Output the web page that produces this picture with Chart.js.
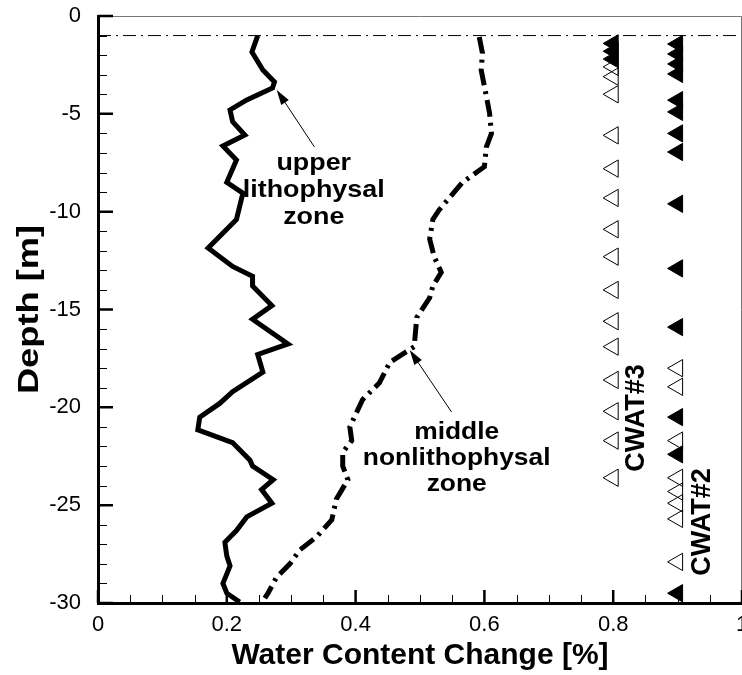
<!DOCTYPE html>
<html>
<head>
<meta charset="utf-8">
<title>Water Content Change</title>
<script src="https://cdn.jsdelivr.net/npm/chart.js@4.4.1/dist/chart.umd.min.js"></script>
<style>
  html, body { margin: 0; padding: 0; background: #fff; }
  #wrap { width: 742px; height: 675px; }
</style>
</head>
<body>
<div id="wrap"><canvas id="waterChart"></canvas></div>
<script>
// upper lithophysal zone (solid line), depth in m, change in %
const upperDepth = [-1.0, -1.84, -2.76, -3.37, -3.68, -4.29, -4.8, -5.4, -6.08, -6.64, -7.36, -8.5, -9.05,
  -10.4, -11.86, -12.8, -13.3, -13.8, -14.8, -15.5, -16.76, -17.3, -18.2, -19.2, -19.8, -20.5, -21.15,
  -21.8, -22.7, -23.0, -23.7, -24.2, -24.9, -25.6, -26.3, -26.9, -27.6, -28.1, -29.0, -29.5, -29.95];
const upperValue = [0.248, 0.239, 0.256, 0.274, 0.271, 0.231, 0.205, 0.209, 0.228, 0.194, 0.215, 0.2, 0.225,
  0.215, 0.171, 0.209, 0.24, 0.24, 0.27, 0.24, 0.295, 0.248, 0.256, 0.209, 0.189, 0.158, 0.155,
  0.209, 0.236, 0.24, 0.272, 0.254, 0.27, 0.231, 0.215, 0.197, 0.2, 0.205, 0.194, 0.2, 0.22];

// middle nonlithophysal zone (dash-dot line)
const middleDepth = [-1.07, -1.9, -2.76, -4.1, -4.96, -6.0, -6.7, -7.7, -8.5, -9.9, -10.4, -11.4, -12.3,
  -13.1, -13.8, -14.4, -15.4, -16.9, -17.7, -18.75, -19.6, -21.0, -21.7, -22.3, -23.0, -23.7, -24.7,
  -25.75, -26.6, -27.3, -28.0, -28.7, -29.5, -29.75];
const middleValue = [0.592, 0.597, 0.595, 0.603, 0.608, 0.611, 0.603, 0.6, 0.566, 0.53, 0.52, 0.515, 0.522,
  0.533, 0.52, 0.515, 0.495, 0.491, 0.453, 0.437, 0.411, 0.391, 0.394, 0.38, 0.38, 0.388, 0.37,
  0.363, 0.34, 0.313, 0.298, 0.277, 0.264, 0.259];

// probe columns (sensor depths)
const cwat3X = 0.8;
const cwat3Filled = [-1.4, -1.8, -2.2];
const cwat3Open = [-2.6, -3.1, -4.0, -6.1, -7.8, -9.3, -10.9, -12.3, -14.0, -15.6, -16.9, -18.6, -20.2, -21.7, -23.6];
const cwat2X = 0.9;
const cwat2Filled = [-1.43, -1.94, -2.45, -2.96, -4.3, -4.9, -6.0, -6.95, -9.6, -12.9, -15.9, -20.5, -22.4, -29.5];
const cwat2Open = [-18.0, -18.95, -21.7, -23.6, -24.3, -24.9, -25.7, -27.9];

// reference level
const refDepth = -1;

const xTicks = [0, 0.2, 0.4, 0.6, 0.8, 1];
const xTickLabels = ['0', '0.2', '0.4', '0.6', '0.8', '1'];
const yTicks = [0, -5, -10, -15, -20, -25, -30];
const yTickLabels = ['0', '-5', '-10', '-15', '-20', '-25', '-30'];

const toPoints = (xs, ys) => xs.map((v, i) => ({ x: v, y: ys[i] }));
const column = (xv, depths) => depths.map(d => ({ x: xv, y: d }));

function stretchText(ctx, text, px, py, font, sx, rot) {
  ctx.save();
  ctx.translate(px, py);
  if (rot) ctx.rotate(rot);
  ctx.scale(sx, 1);
  ctx.font = font;
  ctx.fillText(text, 0, 0);
  ctx.restore();
}

function arrow(ctx, x1, y1, x2, y2) {
  // from (x1,y1) to tip (x2,y2)
  const ang = Math.atan2(y2 - y1, x2 - x1);
  const len = 15, half = 4.5;
  ctx.lineWidth = 1;
  ctx.beginPath();
  ctx.moveTo(x1, y1);
  ctx.lineTo(x2 - Math.cos(ang) * len * 0.8, y2 - Math.sin(ang) * len * 0.8);
  ctx.stroke();
  ctx.beginPath();
  ctx.moveTo(x2, y2);
  ctx.lineTo(x2 - Math.cos(ang) * len - Math.sin(ang) * half, y2 - Math.sin(ang) * len + Math.cos(ang) * half);
  ctx.lineTo(x2 - Math.cos(ang) * len + Math.sin(ang) * half, y2 - Math.sin(ang) * len - Math.cos(ang) * half);
  ctx.closePath();
  ctx.fill();
}

// inward ticks, thin frame and text notes
const decorations = {
  id: 'decorations',
  afterDraw(chart) {
    const { ctx, chartArea: a, scales: { x, y } } = chart;
    ctx.save();
    ctx.fillStyle = '#000';

    // thin frame top / right
    ctx.strokeStyle = '#777';
    ctx.lineWidth = 1;
    ctx.beginPath();
    ctx.moveTo(a.left, a.top + 0.5);
    ctx.lineTo(a.right - 0.5, a.top + 0.5);
    ctx.lineTo(a.right - 0.5, a.bottom);
    ctx.stroke();
    ctx.strokeStyle = '#000';

    // minor ticks
    ctx.lineWidth = 1;
    ctx.beginPath();
    for (let i = 1; i < 20; i++) {
      if (i % 4 === 0) continue;
      const px = Math.round(x.getPixelForValue(i * 0.05)) + 0.5;
      ctx.moveTo(px, a.bottom);
      ctx.lineTo(px, a.bottom - 8);
    }
    for (let d = -1; d > -30; d--) {
      if (d % 5 === 0) continue;
      const py = Math.round(y.getPixelForValue(d)) + 0.5;
      ctx.moveTo(a.left, py);
      ctx.lineTo(a.left + 9, py);
    }
    ctx.stroke();

    // major ticks
    ctx.lineWidth = 2.5;
    ctx.beginPath();
    xTicks.forEach(v => {
      const px = x.getPixelForValue(v);
      ctx.moveTo(px, a.bottom);
      ctx.lineTo(px, a.bottom - 13);
    });
    yTicks.forEach(v => {
      const py = y.getPixelForValue(v);
      ctx.moveTo(a.left, py);
      ctx.lineTo(a.left + 15, py);
    });
    ctx.stroke();

    ctx.textAlign = 'center';
    ctx.textBaseline = 'middle';

    // y axis title, drawn here so it can be stretched like the original
    stretchText(ctx, 'Depth [m]', 30, (a.top + a.bottom) / 2,
      'bold 29px "Liberation Sans", Arial, sans-serif', 1.25, -Math.PI / 2);

    // zone labels
    const f = 'bold 24px "Liberation Sans", Arial, sans-serif';
    const ux = x.getPixelForValue(0.335), uy = y.getPixelForValue(-7.51);
    ['upper', 'lithophysal', 'zone'].forEach((t, i) => stretchText(ctx, t, ux, uy + i * 27, f, 1.12));
    const mx = x.getPixelForValue(0.557), my = y.getPixelForValue(-21.3);
    ['middle', 'nonlithophysal', 'zone'].forEach((t, i) => stretchText(ctx, t, mx, my + i * 26, f, 1.1));

    arrow(ctx, x.getPixelForValue(0.336), y.getPixelForValue(-6.69), x.getPixelForValue(0.2775), y.getPixelForValue(-3.78));
    arrow(ctx, x.getPixelForValue(0.549), y.getPixelForValue(-20.24), x.getPixelForValue(0.484), y.getPixelForValue(-17.07));

    // probe names, rotated
    ctx.font = 'bold 27px "Liberation Sans", Arial, sans-serif';
    [['CWAT#3', 0.837, -20.54], ['CWAT#2', 0.938, -25.86]].forEach(([t, xv, yv]) => {
      ctx.save();
      ctx.translate(x.getPixelForValue(xv), y.getPixelForValue(yv));
      ctx.rotate(-Math.PI / 2);
      ctx.fillText(t, 0, 0);
      ctx.restore();
    });
    ctx.restore();
  }
};

const ctx = document.getElementById('waterChart').getContext('2d');
const tickFont = { family: '"Liberation Sans", Arial, sans-serif', size: 22 };
const titleFont = { family: '"Liberation Sans", Arial, sans-serif', size: 30, weight: 'bold' };

const chart = new Chart(ctx, {
  type: 'scatter',
  data: {
    datasets: [
      {
        label: 'reference',
        data: [{ x: 0, y: refDepth }, { x: 1, y: refDepth }],
        showLine: true,
        borderColor: '#000',
        borderWidth: 1,
        borderDash: [13, 5, 2, 5],
        pointRadius: 0
      },
      {
        label: 'upper lithophysal zone',
        data: toPoints(upperValue, upperDepth),
        showLine: true,
        borderColor: '#000',
        borderWidth: 5,
        pointRadius: 0
      },
      {
        label: 'middle nonlithophysal zone',
        data: toPoints(middleValue, middleDepth),
        showLine: true,
        borderColor: '#000',
        borderWidth: 5,
        borderDash: [17, 6, 3, 6],
        pointRadius: 0
      },
      {
        label: 'CWAT#3 open',
        data: column(cwat3X, cwat3Open),
        pointStyle: 'triangle',
        rotation: -90,
        pointRadius: 10,
        borderWidth: 1,
        borderColor: '#000',
        backgroundColor: 'rgba(0,0,0,0)'
      },
      {
        label: 'CWAT#3 filled',
        data: column(cwat3X, cwat3Filled),
        pointStyle: 'triangle',
        rotation: -90,
        pointRadius: 10,
        borderWidth: 1,
        borderColor: '#000',
        backgroundColor: '#000'
      },
      {
        label: 'CWAT#2 open',
        data: column(cwat2X, cwat2Open),
        pointStyle: 'triangle',
        rotation: -90,
        pointRadius: 10,
        borderWidth: 1,
        borderColor: '#000',
        backgroundColor: 'rgba(0,0,0,0)'
      },
      {
        label: 'CWAT#2 filled',
        data: column(cwat2X, cwat2Filled),
        pointStyle: 'triangle',
        rotation: -90,
        pointRadius: 10,
        borderWidth: 1,
        borderColor: '#000',
        backgroundColor: '#000'
      }
    ]
  },
  options: {
    responsive: true,
    maintainAspectRatio: false,
    animation: false,
    layout: { autoPadding: false, padding: { top: 16, right: 0, left: 0, bottom: 0 } },
    plugins: {
      legend: { display: false },
      tooltip: { enabled: false }
    },
    scales: {
      x: {
        type: 'linear',
        min: 0,
        max: 1,
        grid: { display: false },
        border: { display: true, width: 3, color: '#000' },
        afterBuildTicks: s => { s.ticks = xTicks.map(v => ({ value: v })); },
        afterFit: s => { s.height = 72; s.paddingLeft = 0; s.paddingRight = 0; },
        ticks: {
          autoSkip: false,
          maxRotation: 0,
          padding: 1,
          color: '#000',
          font: tickFont,
          callback: (v, i) => xTickLabels[i]
        },
        title: {
          display: true,
          text: 'Water Content Change [%]',
          color: '#000',
          font: titleFont,
          padding: { top: 0, bottom: 1 }
        }
      },
      y: {
        type: 'linear',
        min: -30,
        max: 0,
        grid: { display: false },
        border: { display: true, width: 3, color: '#000' },
        afterBuildTicks: s => { s.ticks = yTicks.map(v => ({ value: v })); },
        afterFit: s => { s.width = 98; s.paddingTop = 0; s.paddingBottom = 0; },
        ticks: {
          autoSkip: false,
          padding: 9,
          color: '#000',
          font: tickFont,
          callback: (v, i) => yTickLabels[i]
        },
        title: { display: false }
      }
    }
  },
  plugins: [decorations]
});
</script>
</body>
</html>
